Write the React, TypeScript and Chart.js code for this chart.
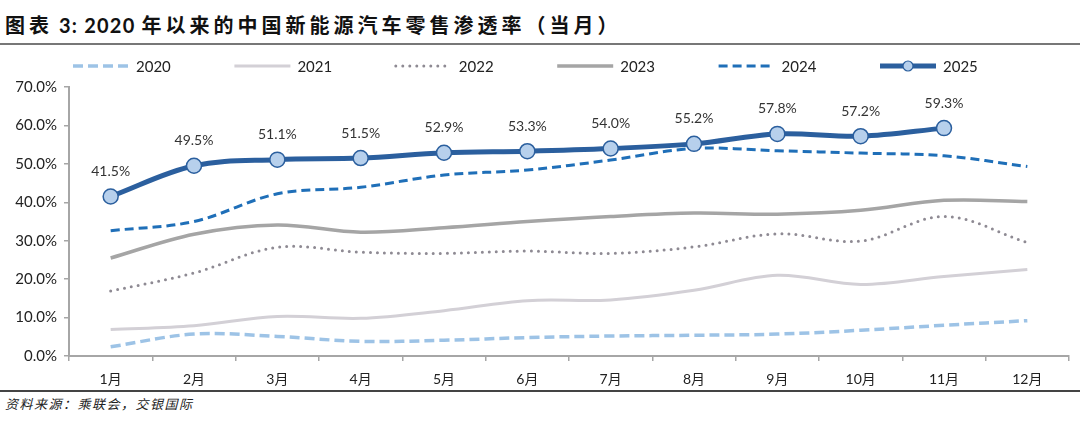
import { useEffect, useRef } from "react";
import { Chart, registerables } from "chart.js";

Chart.register(...registerables);

// 零售渗透率（当月），单位 %
const months = ["1月", "2月", "3月", "4月", "5月", "6月", "7月", "8月", "9月", "10月", "11月", "12月"];
const years = ["2020", "2021", "2022", "2023", "2024", "2025"];
const pen2020 = [2.4, 5.7, 5.1, 3.8, 4.1, 4.8, 5.2, 5.4, 5.7, 6.7, 8.0, 9.2];
const pen2021 = [6.9, 7.9, 10.3, 9.8, 11.8, 14.4, 14.6, 17.1, 21.0, 18.6, 20.7, 22.5];
const pen2022 = [16.9, 21.6, 28.3, 27.0, 26.7, 27.3, 26.7, 28.4, 31.8, 29.9, 36.3, 29.5];
const pen2023 = [25.5, 31.7, 34.1, 32.2, 33.4, 35.0, 36.3, 37.2, 36.9, 37.9, 40.5, 40.2];
const pen2024 = [32.6, 35.0, 42.2, 43.9, 47.1, 48.4, 51.0, 54.0, 53.4, 52.8, 52.1, 49.3];
const pen2025 = [41.5, 49.5, 51.1, 51.5, 52.9, 53.3, 54.0, 55.2, 57.8, 57.2, 59.3, null];
const yMin = 0;
const yMax = 70;
const yStep = 10;

const FONT = "Lato, 'Noto Sans CJK SC', sans-serif";

// 顶部图例：线型 + 年份
const yearLegend = {
  id: "yearLegend",
  afterDraw(chart: any) {
    const { ctx } = chart;
    const y = 18;
    chart.data.datasets.forEach((ds: any, i: number) => {
      const x0 = 73 + i * 161.4;
      ctx.save();
      ctx.strokeStyle = ds.borderColor;
      ctx.lineWidth = ds.borderWidth;
      ctx.lineCap = ds.borderCapStyle || "butt";
      ctx.setLineDash(ds.borderDash || []);
      ctx.beginPath();
      ctx.moveTo(x0, y);
      ctx.lineTo(x0 + 56, y);
      ctx.stroke();
      if (ds.pointRadius > 0) {
        ctx.setLineDash([]);
        ctx.beginPath();
        ctx.arc(x0 + 28, y, 5, 0, Math.PI * 2);
        ctx.fillStyle = ds.pointBackgroundColor;
        ctx.fill();
        ctx.lineWidth = 1.2;
        ctx.strokeStyle = ds.pointBorderColor;
        ctx.stroke();
      }
      ctx.fillStyle = "#222";
      ctx.font = `15px ${FONT}`;
      ctx.textBaseline = "middle";
      ctx.fillText(ds.label, x0 + 63, y + 1);
      ctx.restore();
    });
  },
};

// 2025 数据标签
const valueLabels = {
  id: "valueLabels",
  afterDatasetsDraw(chart: any) {
    const { ctx } = chart;
    const idx = chart.data.datasets.length - 1;
    const meta = chart.getDatasetMeta(idx);
    const values = chart.data.datasets[idx].data;
    ctx.save();
    ctx.fillStyle = "#333";
    ctx.font = `14px ${FONT}`;
    ctx.textAlign = "center";
    ctx.textBaseline = "middle";
    meta.data.forEach((pt: any, j: number) => {
      const v = values[j];
      if (v == null) return;
      ctx.fillText(`${v.toFixed(1)}%`, pt.x, pt.y - 25);
    });
    ctx.restore();
  },
};

export default function App() {
  const canvasRef = useRef<HTMLCanvasElement>(null);

  useEffect(() => {
    if (!canvasRef.current) return;

    const chart = new Chart(canvasRef.current, {
      type: "line",
      data: {
        labels: months,
        datasets: [
          {
            label: years[0],
            data: pen2020,
            borderColor: "#9DC3E6",
            borderWidth: 3.5,
            borderDash: [10, 5],
            pointRadius: 0,
            tension: 0.35,
            order: 5,
          },
          {
            label: years[1],
            data: pen2021,
            borderColor: "#D3D0D6",
            borderWidth: 3,
            pointRadius: 0,
            tension: 0.35,
            order: 4,
          },
          {
            label: years[2],
            data: pen2022,
            borderColor: "#8E8A93",
            borderWidth: 3,
            borderDash: [0, 7],
            borderCapStyle: "round",
            pointRadius: 0,
            tension: 0.35,
            order: 3,
          },
          {
            label: years[3],
            data: pen2023,
            borderColor: "#A5A5A5",
            borderWidth: 3.5,
            pointRadius: 0,
            tension: 0.35,
            order: 2,
          },
          {
            label: years[4],
            data: pen2024,
            borderColor: "#1F6FB8",
            borderWidth: 3,
            borderDash: [9, 5],
            pointRadius: 0,
            tension: 0.35,
            order: 1,
          },
          {
            label: years[5],
            data: pen2025,
            borderColor: "#2B5F9E",
            borderWidth: 5,
            pointRadius: 7.5,
            pointBackgroundColor: "#B7D0EC",
            pointBorderColor: "#2B5F9E",
            pointBorderWidth: 1.5,
            tension: 0.35,
            order: 0,
          },
        ],
      },
      options: {
        animation: false,
        responsive: true,
        maintainAspectRatio: false,
        layout: { padding: { top: 39, right: 11, left: 0, bottom: 0 } },
        plugins: { legend: { display: false }, tooltip: { enabled: false } },
        scales: {
          x: {
            offset: true,
            grid: { offset: true, drawOnChartArea: false, tickLength: 5, color: "#A6A6A6", lineWidth: 1.5 },
            border: { color: "#A6A6A6", width: 2 },
            ticks: { color: "#222", font: { size: 14, family: FONT }, padding: 10 },
            afterFit: (s: any) => { s.height = 32; },
          },
          y: {
            min: yMin,
            max: yMax,
            grid: { drawOnChartArea: false, tickLength: 5, color: "#A6A6A6", lineWidth: 1.5 },
            border: { color: "#A6A6A6", width: 2 },
            ticks: {
              stepSize: yStep,
              color: "#222",
              font: { size: 15, family: FONT },
              padding: 7,
              callback: (v: any) => `${Number(v).toFixed(1)}%`,
            },
            afterFit: (s: any) => { s.width = 69; },
          },
        },
      },
      plugins: [yearLegend, valueLabels],
    });

    return () => chart.destroy();
  }, []);

  const cjk = { letterSpacing: "4px" };

  return (
    <div style={{ position: "fixed", left: 0, top: 0, width: 1080, height: 432, background: "#fff", fontFamily: FONT, color: "#111" }}>
      <div style={{ position: "absolute", left: 5, top: 12, fontSize: 20, lineHeight: "26px", fontWeight: 700, whiteSpace: "pre" }}>
        <span style={cjk}>图表</span>
        <span style={{ letterSpacing: "1.2px" }}> 3: 2020 </span>
        <span style={cjk}>年以来的中国新能源汽车零售渗透率（当月）</span>
      </div>
      <div style={{ position: "absolute", left: 0, top: 43, width: 1080, height: 2, background: "#777" }} />
      <div style={{ position: "absolute", left: 0, top: 48, width: 1080, height: 340 }}>
        <canvas ref={canvasRef} />
      </div>
      <div style={{ position: "absolute", left: 0, top: 390, width: 1080, height: 1.5, background: "#444" }} />
      <div style={{ position: "absolute", left: 5, top: 395, fontSize: 13, lineHeight: "18px", fontStyle: "italic", letterSpacing: "1.5px", color: "#222" }}>
        资料来源：乘联会，交银国际
      </div>
    </div>
  );
}
